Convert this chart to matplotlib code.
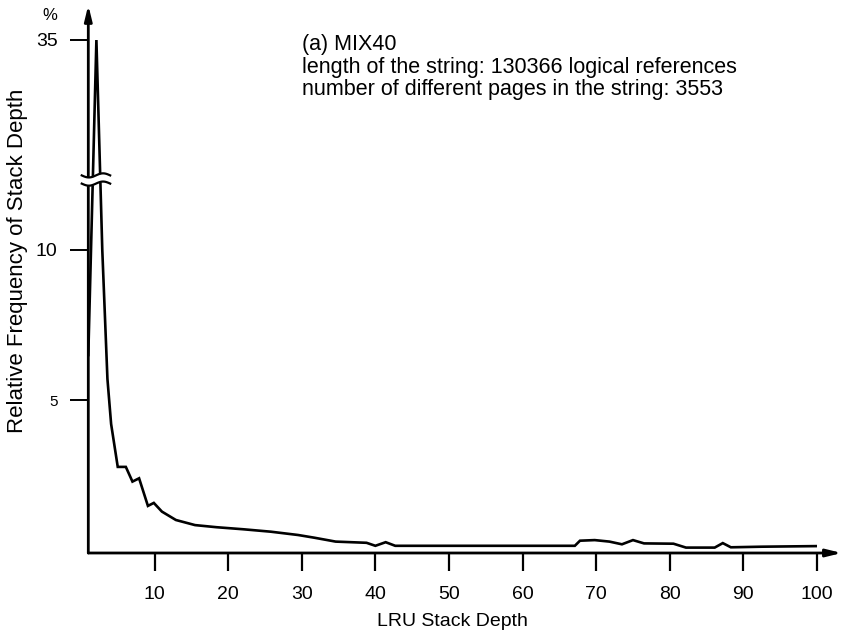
import numpy as np
import matplotlib
matplotlib.use("Agg")
import matplotlib.pyplot as plt

plt.rcParams['font.family'] = ['Liberation Sans', 'DejaVu Sans']

# LRU stack depth vs relative frequency (%)
depth = [1, 2.1, 2.9, 3.6, 4.1, 5.0, 6.1, 7.0, 7.9, 9.1, 9.9, 11.0, 12.9,
         15.5, 18.4, 22.1, 25.8, 29.5, 31.7, 34.6, 38.8, 40.0, 41.4, 42.7,
         67.1, 67.8, 69.8, 71.8, 73.5, 75.0, 76.5, 80.5, 82.2, 86.1, 87.2,
         88.3, 92.5, 100]
freq = [6.5, 35, 10, 5.7, 4.2, 2.77, 2.77, 2.28, 2.39, 1.47, 1.57, 1.28, 1.0,
        0.83, 0.76, 0.69, 0.61, 0.5, 0.41, 0.28, 0.24, 0.14, 0.26, 0.14,
        0.14, 0.31, 0.33, 0.28, 0.19, 0.33, 0.22, 0.21, 0.08, 0.08, 0.23,
        0.09, 0.11, 0.13]

xticks = [10, 20, 30, 40, 50, 60, 70, 80, 90, 100]
yticks = [5, 10, 35]

# broken y axis: above 12.5 the scale is squeezed
BRK = 12.5
SQ = 0.2


def fwd(y):
    y = np.asarray(y, dtype=float)
    return np.where(y <= BRK, y, BRK + (y - BRK) * SQ)


def inv(y):
    y = np.asarray(y, dtype=float)
    return np.where(y <= BRK, y, BRK + (y - BRK) / SQ)


fig = plt.figure(figsize=(8.44, 6.43), dpi=100)
ax = fig.add_axes([88.3 / 844, 90 / 643, (817 - 88.3) / 844, 513 / 643])

ax.plot(depth, freq, color='black', lw=1.9, solid_joinstyle='miter', zorder=3)

ax.set_yscale('function', functions=(fwd, inv))
ax.set_xlim(1, 100)
ax.set_ylim(-0.1, 35)

for s in ax.spines.values():
    s.set_visible(False)

# axes with arrow heads
arrow = dict(arrowstyle='-|>,head_length=0.9,head_width=0.22', lw=2,
             color='black', shrinkA=0, shrinkB=0)
ax.annotate('', xy=(0, 1.068), xytext=(0, 0), xycoords='axes fraction',
            textcoords='axes fraction', arrowprops=arrow, zorder=2)
ax.annotate('', xy=(1.034, 0), xytext=(0, 0), xycoords='axes fraction',
            textcoords='axes fraction', arrowprops=arrow, zorder=2)

ax.set_xticks(xticks)
ax.set_xticklabels([str(v) for v in xticks], fontsize=14)
ax.set_yticks(yticks)
ax.set_yticklabels([str(v) for v in yticks], fontsize=14)
ax.get_yticklabels()[0].set_fontsize(11)
ax.tick_params(axis='x', direction='out', length=13, width=1.6, pad=11)
ax.tick_params(axis='y', direction='out', length=13, width=1.4, pad=9)

ax.set_xlabel('LRU Stack Depth', fontsize=14)
ax.xaxis.set_label_coords(0.5, (553 - 613) / 513)
ax.set_ylabel('Relative Frequency of Stack Depth', fontsize=16)
ax.yaxis.set_label_coords((28 - 88.3) / 728.7, (553 - 261) / 513)
fig.text(50 / 844, 1 - 16 / 643, '%', fontsize=12, ha='center', va='center')

# break marks on the y axis
to_ax = ax.transData + ax.transAxes.inverted()
yb = to_ax.transform((1, 12.35))[1]
xs = np.linspace(-0.009, 0.03, 60)
wave = 0.004 * np.sin((xs - xs[0]) / (xs[-1] - xs[0]) * 2 * np.pi + np.pi)
ax.fill_between(xs, yb - 0.008 + wave, yb + 0.008 + wave, color='white',
                transform=ax.transAxes, clip_on=False, zorder=5, lw=0)
ax.plot(xs, yb + 0.008 + wave, color='black', lw=1.6, transform=ax.transAxes,
        clip_on=False, zorder=6)
ax.plot(xs, yb - 0.008 + wave, color='black', lw=1.6, transform=ax.transAxes,
        clip_on=False, zorder=6)

fig.text(302 / 844, 1 - 34 / 643,
         '(a) MIX40\nlength of the string: 130366 logical references\n'
         'number of different pages in the string: 3553',
         fontsize=15.5, va='top', ha='left', linespacing=1.1)

fig.savefig('out.png', dpi=100)
